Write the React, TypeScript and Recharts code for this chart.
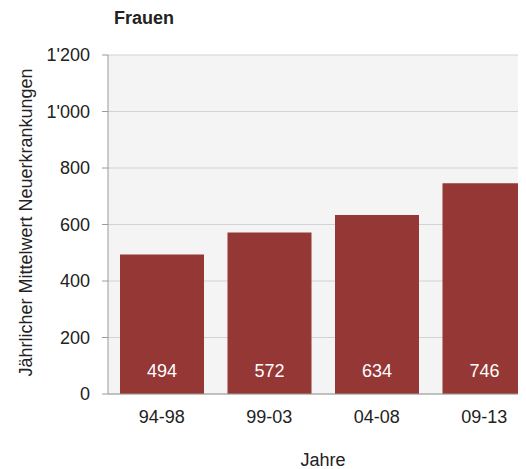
import { Bar, BarChart, CartesianGrid, Label, LabelList, XAxis, YAxis } from "recharts";

const periods = ["94-98", "99-03", "04-08", "09-13"];
const cases = [494, 572, 634, 746];
const yTicks = [0, 200, 400, 600, 800, 1000, 1200];
const boundaryTicks = [0, 1, 2, 3, 4];

const data = periods.map((period, i) => ({ period, value: cases[i] }));

const font = "'Liberation Sans', Arial, Helvetica, sans-serif";

const fmt = (v: number) => (v >= 1000 ? `${Math.floor(v / 1000)}'${String(v % 1000).padStart(3, "0")}` : `${v}`);

function ValueLabel(props: any) {
  const { x, y, width, height, value } = props;
  return (
    <text
      x={x + width / 2}
      y={y + height - 17}
      textAnchor="middle"
      fill="#ffffff"
      fontSize={18}
      fontFamily={font}
    >
      {value}
    </text>
  );
}

export default function App() {
  return (
    <div style={{ width: 518, height: 461, overflow: "hidden", position: "relative" }}>
      <div
        style={{
          position: "absolute",
          left: 106,
          top: 0,
          fontFamily: font,
          fontWeight: 700,
          fontSize: 18,
          color: "#222",
        }}
      >
        Frauen
      </div>
      <BarChart
        width={540}
        height={461}
        data={data}
        margin={{ top: 47, right: 10, left: 30, bottom: 0 }}
        barCategoryGap={12}
      >
        <CartesianGrid vertical={false} fill="#f4f4f4" stroke="#d2d2d2" />
        <XAxis
          xAxisId="edges"
          type="number"
          domain={[0, 4]}
          ticks={boundaryTicks}
          tick={false}
          tickSize={8}
          axisLine={false}
          tickLine={{ stroke: "#9a9a9a" }}
          height={0}
        />
        <XAxis
          dataKey="period"
          tickLine={false}
          axisLine={{ stroke: "#9a9a9a" }}
          tickSize={8}
          tickMargin={8}
          height={75}
          tick={{ fill: "#222", fontSize: 18, fontFamily: font }}
          interval={0}
        >
          <Label
            value="Jahre"
            position="insideBottom"
            offset={3}
            fill="#222"
            fontSize={18}
            fontFamily={font}
          />
        </XAxis>
        <YAxis
          width={70}
          domain={[0, 1200]}
          ticks={yTicks}
          tickFormatter={fmt}
          tickSize={6}
          tickMargin={12}
          axisLine={{ stroke: "#9a9a9a" }}
          tickLine={{ stroke: "#9a9a9a" }}
          tick={{ fill: "#222", fontSize: 18, fontFamily: font }}
        >
          <Label
            content={(p: any) => {
              const vb = p.viewBox;
              const cx = 18;
              const cy = vb.y + vb.height / 2 - 2;
              return (
                <text
                  x={cx}
                  y={cy}
                  transform={`rotate(-90 ${cx} ${cy})`}
                  textAnchor="middle"
                  dominantBaseline="central"
                  fill="#222"
                  fontSize={18}
                  fontFamily={font}
                >
                  Jährlicher Mittelwert Neuerkrankungen
                </text>
              );
            }}
          />
        </YAxis>
        <Bar dataKey="value" fill="#953735" isAnimationActive={false}>
          <LabelList dataKey="value" content={ValueLabel} />
        </Bar>
      </BarChart>
    </div>
  );
}
